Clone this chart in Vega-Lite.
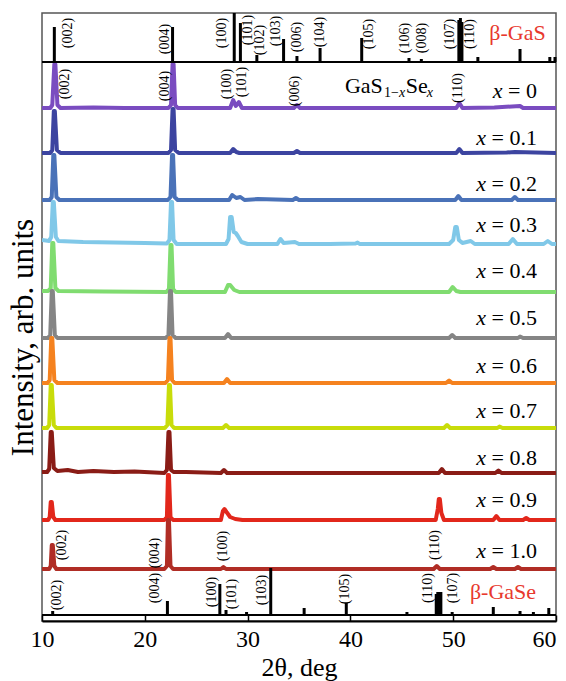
{
  "$schema": "https://vega.github.io/schema/vega-lite/v6.json",
  "width": 514,
  "height": 608,
  "autosize": {"type": "none"},
  "padding": {"left": 42, "top": 13, "right": 10, "bottom": 60},
  "background": "white",
  "config": {"view": {"stroke": "#555555", "strokeWidth": 1.5}, "font": "'Liberation Serif', 'Times New Roman', serif"},
  "datasets": {
    "traces": [
      {"s":"0","t":10,"v":513},{"s":"0","t":10.8,"v":513},{"s":"0","t":11.0,"v":516},{"s":"0","t":11.2,"v":557},{"s":"0","t":11.3,"v":557},{"s":"0","t":11.5,"v":516},{"s":"0","t":11.8,"v":513},{"s":"0","t":15,"v":513.5},{"s":"0","t":18,"v":513},{"s":"0","t":22.3,"v":513},{"s":"0","t":22.55,"v":516},{"s":"0","t":22.7,"v":557},{"s":"0","t":22.8,"v":557},{"s":"0","t":22.95,"v":516},{"s":"0","t":23.2,"v":513},{"s":"0","t":26,"v":513},{"s":"0","t":28.3,"v":513},{"s":"0","t":28.6,"v":521},{"s":"0","t":28.85,"v":515},{"s":"0","t":29.15,"v":519},{"s":"0","t":29.45,"v":513},{"s":"0","t":32,"v":513},{"s":"0","t":34.5,"v":513},{"s":"0","t":34.8,"v":516},{"s":"0","t":35.1,"v":513},{"s":"0","t":40,"v":513},{"s":"0","t":45,"v":513},{"s":"0","t":50.3,"v":513},{"s":"0","t":50.6,"v":518},{"s":"0","t":50.9,"v":513},{"s":"0","t":54,"v":513.5},{"s":"0","t":56.5,"v":515},{"s":"0","t":56.8,"v":513},{"s":"0","t":60,"v":513},
      {"s":"0.1","t":10,"v":468},{"s":"0.1","t":10.8,"v":468},{"s":"0.1","t":11.0,"v":471},{"s":"0.1","t":11.15,"v":510},{"s":"0.1","t":11.25,"v":510},{"s":"0.1","t":11.45,"v":471},{"s":"0.1","t":11.8,"v":468},{"s":"0.1","t":16,"v":468},{"s":"0.1","t":22.3,"v":468},{"s":"0.1","t":22.55,"v":471},{"s":"0.1","t":22.7,"v":512},{"s":"0.1","t":22.8,"v":512},{"s":"0.1","t":22.95,"v":471},{"s":"0.1","t":23.3,"v":468},{"s":"0.1","t":28.3,"v":468},{"s":"0.1","t":28.6,"v":472},{"s":"0.1","t":28.9,"v":469},{"s":"0.1","t":29.2,"v":468},{"s":"0.1","t":34.5,"v":468},{"s":"0.1","t":34.8,"v":470},{"s":"0.1","t":35.1,"v":468},{"s":"0.1","t":42,"v":468},{"s":"0.1","t":50.3,"v":468},{"s":"0.1","t":50.6,"v":472},{"s":"0.1","t":50.9,"v":468},{"s":"0.1","t":55.2,"v":468.5},{"s":"0.1","t":56,"v":469},{"s":"0.1","t":60,"v":468},
      {"s":"0.2","t":10,"v":421},{"s":"0.2","t":10.75,"v":421},{"s":"0.2","t":10.95,"v":424},{"s":"0.2","t":11.1,"v":466},{"s":"0.2","t":11.2,"v":466},{"s":"0.2","t":11.4,"v":424},{"s":"0.2","t":11.7,"v":421},{"s":"0.2","t":16,"v":421},{"s":"0.2","t":22.25,"v":421},{"s":"0.2","t":22.5,"v":424},{"s":"0.2","t":22.65,"v":466},{"s":"0.2","t":22.75,"v":466},{"s":"0.2","t":22.9,"v":424},{"s":"0.2","t":23.2,"v":421},{"s":"0.2","t":28.2,"v":421},{"s":"0.2","t":28.5,"v":426},{"s":"0.2","t":28.9,"v":423},{"s":"0.2","t":29.3,"v":424},{"s":"0.2","t":29.7,"v":421},{"s":"0.2","t":31,"v":422},{"s":"0.2","t":34.4,"v":421},{"s":"0.2","t":34.7,"v":423},{"s":"0.2","t":35,"v":421},{"s":"0.2","t":40,"v":421},{"s":"0.2","t":50.2,"v":421},{"s":"0.2","t":50.5,"v":425},{"s":"0.2","t":50.8,"v":421},{"s":"0.2","t":55.7,"v":421},{"s":"0.2","t":56,"v":424},{"s":"0.2","t":56.3,"v":421},{"s":"0.2","t":60,"v":421},
      {"s":"0.3","t":10,"v":381},{"s":"0.3","t":10.7,"v":380},{"s":"0.3","t":10.9,"v":384},{"s":"0.3","t":11.05,"v":419},{"s":"0.3","t":11.15,"v":419},{"s":"0.3","t":11.35,"v":384},{"s":"0.3","t":11.6,"v":380},{"s":"0.3","t":14,"v":379},{"s":"0.3","t":17,"v":378.5},{"s":"0.3","t":20,"v":378},{"s":"0.3","t":22.15,"v":377.5},{"s":"0.3","t":22.4,"v":381},{"s":"0.3","t":22.55,"v":419},{"s":"0.3","t":22.65,"v":419},{"s":"0.3","t":22.8,"v":381},{"s":"0.3","t":23.1,"v":377},{"s":"0.3","t":26,"v":377},{"s":"0.3","t":27.9,"v":377},{"s":"0.3","t":28.15,"v":382},{"s":"0.3","t":28.3,"v":404},{"s":"0.3","t":28.45,"v":404},{"s":"0.3","t":28.65,"v":389},{"s":"0.3","t":28.85,"v":388},{"s":"0.3","t":29.05,"v":385},{"s":"0.3","t":29.4,"v":379},{"s":"0.3","t":30,"v":377},{"s":"0.3","t":32.9,"v":377},{"s":"0.3","t":33.2,"v":382},{"s":"0.3","t":33.5,"v":378},{"s":"0.3","t":34.6,"v":379},{"s":"0.3","t":35,"v":377},{"s":"0.3","t":38,"v":377},{"s":"0.3","t":40.5,"v":377.5},{"s":"0.3","t":40.7,"v":378.5},{"s":"0.3","t":40.9,"v":377},{"s":"0.3","t":45,"v":377},{"s":"0.3","t":49.6,"v":377},{"s":"0.3","t":50.0,"v":381},{"s":"0.3","t":50.2,"v":394},{"s":"0.3","t":50.35,"v":394},{"s":"0.3","t":50.55,"v":381},{"s":"0.3","t":50.9,"v":378},{"s":"0.3","t":51.7,"v":380},{"s":"0.3","t":52.1,"v":377},{"s":"0.3","t":55.4,"v":377},{"s":"0.3","t":55.8,"v":382},{"s":"0.3","t":56.2,"v":377},{"s":"0.3","t":58.8,"v":377},{"s":"0.3","t":59.2,"v":380},{"s":"0.3","t":59.6,"v":377},{"s":"0.3","t":60,"v":377},
      {"s":"0.4","t":10,"v":330},{"s":"0.4","t":10.6,"v":330},{"s":"0.4","t":10.85,"v":333},{"s":"0.4","t":11.0,"v":378},{"s":"0.4","t":11.1,"v":378},{"s":"0.4","t":11.3,"v":333},{"s":"0.4","t":11.6,"v":330},{"s":"0.4","t":16,"v":329.5},{"s":"0.4","t":22.1,"v":329},{"s":"0.4","t":22.35,"v":332},{"s":"0.4","t":22.5,"v":376},{"s":"0.4","t":22.6,"v":376},{"s":"0.4","t":22.75,"v":332},{"s":"0.4","t":23.0,"v":329},{"s":"0.4","t":27.8,"v":329},{"s":"0.4","t":28.1,"v":336},{"s":"0.4","t":28.3,"v":336},{"s":"0.4","t":28.7,"v":331},{"s":"0.4","t":29.2,"v":329},{"s":"0.4","t":40,"v":329},{"s":"0.4","t":49.6,"v":329},{"s":"0.4","t":49.95,"v":334},{"s":"0.4","t":50.3,"v":330},{"s":"0.4","t":50.7,"v":329},{"s":"0.4","t":60,"v":329},
      {"s":"0.5","t":10,"v":283},{"s":"0.5","t":10.6,"v":283},{"s":"0.5","t":10.8,"v":286},{"s":"0.5","t":10.95,"v":330},{"s":"0.5","t":11.05,"v":330},{"s":"0.5","t":11.25,"v":286},{"s":"0.5","t":11.5,"v":283},{"s":"0.5","t":22.05,"v":283},{"s":"0.5","t":22.3,"v":286},{"s":"0.5","t":22.45,"v":330},{"s":"0.5","t":22.55,"v":330},{"s":"0.5","t":22.7,"v":286},{"s":"0.5","t":23.0,"v":283},{"s":"0.5","t":27.8,"v":283},{"s":"0.5","t":28.1,"v":287},{"s":"0.5","t":28.4,"v":283},{"s":"0.5","t":49.6,"v":283},{"s":"0.5","t":49.9,"v":286},{"s":"0.5","t":50.2,"v":283},{"s":"0.5","t":56.3,"v":283},{"s":"0.5","t":56.5,"v":284.5},{"s":"0.5","t":56.8,"v":283},{"s":"0.5","t":60,"v":283},
      {"s":"0.6","t":10,"v":238},{"s":"0.6","t":10.55,"v":238},{"s":"0.6","t":10.75,"v":241},{"s":"0.6","t":10.9,"v":283},{"s":"0.6","t":11.0,"v":283},{"s":"0.6","t":11.2,"v":241},{"s":"0.6","t":11.5,"v":238},{"s":"0.6","t":22.0,"v":238},{"s":"0.6","t":22.25,"v":241},{"s":"0.6","t":22.4,"v":283},{"s":"0.6","t":22.5,"v":283},{"s":"0.6","t":22.65,"v":241},{"s":"0.6","t":22.9,"v":238},{"s":"0.6","t":27.7,"v":238},{"s":"0.6","t":28.0,"v":242},{"s":"0.6","t":28.3,"v":238},{"s":"0.6","t":49.3,"v":238},{"s":"0.6","t":49.6,"v":240.5},{"s":"0.6","t":49.9,"v":238},{"s":"0.6","t":60,"v":238},
      {"s":"0.7","t":10,"v":193},{"s":"0.7","t":10.5,"v":193},{"s":"0.7","t":10.7,"v":196},{"s":"0.7","t":10.85,"v":236},{"s":"0.7","t":10.95,"v":236},{"s":"0.7","t":11.15,"v":196},{"s":"0.7","t":11.4,"v":193},{"s":"0.7","t":21.95,"v":193},{"s":"0.7","t":22.2,"v":196},{"s":"0.7","t":22.35,"v":236},{"s":"0.7","t":22.45,"v":236},{"s":"0.7","t":22.6,"v":196},{"s":"0.7","t":22.85,"v":193},{"s":"0.7","t":27.6,"v":193},{"s":"0.7","t":27.9,"v":196},{"s":"0.7","t":28.2,"v":193},{"s":"0.7","t":49.1,"v":193},{"s":"0.7","t":49.4,"v":196},{"s":"0.7","t":49.7,"v":193},{"s":"0.7","t":54.3,"v":193},{"s":"0.7","t":54.5,"v":194.5},{"s":"0.7","t":54.8,"v":193},{"s":"0.7","t":60,"v":193},
      {"s":"0.8","t":10,"v":149},{"s":"0.8","t":10.5,"v":149},{"s":"0.8","t":10.7,"v":152},{"s":"0.8","t":10.85,"v":189},{"s":"0.8","t":10.95,"v":189},{"s":"0.8","t":11.15,"v":153},{"s":"0.8","t":11.5,"v":150},{"s":"0.8","t":12.5,"v":151},{"s":"0.8","t":13.5,"v":149},{"s":"0.8","t":15,"v":150},{"s":"0.8","t":17,"v":149},{"s":"0.8","t":19,"v":149.5},{"s":"0.8","t":21.9,"v":148},{"s":"0.8","t":22.15,"v":151},{"s":"0.8","t":22.3,"v":189},{"s":"0.8","t":22.4,"v":189},{"s":"0.8","t":22.55,"v":151},{"s":"0.8","t":22.8,"v":149},{"s":"0.8","t":24,"v":149},{"s":"0.8","t":27.4,"v":148},{"s":"0.8","t":27.7,"v":151},{"s":"0.8","t":28.0,"v":148},{"s":"0.8","t":35,"v":148},{"s":"0.8","t":42,"v":148},{"s":"0.8","t":48.6,"v":148},{"s":"0.8","t":48.9,"v":152},{"s":"0.8","t":49.2,"v":148},{"s":"0.8","t":54.1,"v":148},{"s":"0.8","t":54.4,"v":150.5},{"s":"0.8","t":54.7,"v":148},{"s":"0.8","t":60,"v":148},
      {"s":"0.9","t":10,"v":101},{"s":"0.9","t":10.6,"v":101},{"s":"0.9","t":10.75,"v":104},{"s":"0.9","t":10.85,"v":119},{"s":"0.9","t":10.95,"v":119},{"s":"0.9","t":11.1,"v":104},{"s":"0.9","t":11.3,"v":101},{"s":"0.9","t":21.9,"v":101},{"s":"0.9","t":22.15,"v":104},{"s":"0.9","t":22.25,"v":146},{"s":"0.9","t":22.35,"v":146},{"s":"0.9","t":22.5,"v":104},{"s":"0.9","t":22.75,"v":101},{"s":"0.9","t":27.4,"v":101},{"s":"0.9","t":27.6,"v":110},{"s":"0.9","t":27.75,"v":112},{"s":"0.9","t":27.95,"v":109},{"s":"0.9","t":28.3,"v":104},{"s":"0.9","t":28.8,"v":102},{"s":"0.9","t":29.5,"v":101},{"s":"0.9","t":48.3,"v":101},{"s":"0.9","t":48.5,"v":112},{"s":"0.9","t":48.6,"v":122},{"s":"0.9","t":48.7,"v":122},{"s":"0.9","t":48.85,"v":108},{"s":"0.9","t":49.1,"v":101},{"s":"0.9","t":53.9,"v":101},{"s":"0.9","t":54.2,"v":105},{"s":"0.9","t":54.5,"v":101},{"s":"0.9","t":56.8,"v":101},{"s":"0.9","t":57.1,"v":103},{"s":"0.9","t":57.4,"v":101},{"s":"0.9","t":60,"v":101},
      {"s":"1.0","t":10,"v":52},{"s":"1.0","t":10.7,"v":52},{"s":"1.0","t":10.85,"v":55},{"s":"1.0","t":10.95,"v":76},{"s":"1.0","t":11.05,"v":76},{"s":"1.0","t":11.2,"v":55},{"s":"1.0","t":11.4,"v":52},{"s":"1.0","t":21.9,"v":52},{"s":"1.0","t":22.15,"v":55},{"s":"1.0","t":22.25,"v":101},{"s":"1.0","t":22.35,"v":101},{"s":"1.0","t":22.5,"v":55},{"s":"1.0","t":22.75,"v":52},{"s":"1.0","t":27.4,"v":52},{"s":"1.0","t":27.65,"v":54},{"s":"1.0","t":27.9,"v":52},{"s":"1.0","t":48.1,"v":52},{"s":"1.0","t":48.4,"v":55},{"s":"1.0","t":48.7,"v":52},{"s":"1.0","t":53.6,"v":52},{"s":"1.0","t":53.9,"v":54},{"s":"1.0","t":54.2,"v":52},{"s":"1.0","t":56.0,"v":52},{"s":"1.0","t":56.3,"v":54},{"s":"1.0","t":56.6,"v":52},{"s":"1.0","t":60,"v":52}
    ],
    "gas": [
      {"t":11.2,"v":594},{"t":22.7,"v":594},{"t":28.7,"v":608},{"t":29.3,"v":598},{"t":30.9,"v":566},{"t":33.5,"v":582},{"t":34.8,"v":565},{"t":37.05,"v":573},{"t":41.1,"v":583},{"t":45.7,"v":563},{"t":46.9,"v":562},{"t":50.55,"v":601},{"t":50.7,"v":603},{"t":50.85,"v":599},{"t":52.4,"v":564},{"t":54.2,"v":560},{"t":55.9,"v":560},{"t":56.5,"v":572},{"t":59.4,"v":564},{"t":59.9,"v":564}
    ],
    "gase": [
      {"t":11.04,"v":10},{"t":22.2,"v":20},{"t":27.3,"v":37},{"t":27.9,"v":11},{"t":29.9,"v":9},{"t":32.25,"v":53},{"t":35.5,"v":13},{"t":39.6,"v":18},{"t":45.5,"v":9},{"t":48.35,"v":27},{"t":48.5,"v":29},{"t":48.65,"v":29},{"t":48.8,"v":29},{"t":49.9,"v":9},{"t":53.9,"v":14},{"t":56.5,"v":10},{"t":57.8,"v":9},{"t":59.3,"v":13}
    ],
    "hkl": [
      {"lab":"(002)","t":12.5,"v":588},{"lab":"(004)","t":21.96,"v":582},{"lab":"(100)","t":27.48,"v":588},{"lab":"(101)","t":30.07,"v":591},{"lab":"(102)","t":31.2,"v":581},{"lab":"(103)","t":32.76,"v":590},{"lab":"(006)","t":34.78,"v":584},{"lab":"(104)","t":37.04,"v":589},{"lab":"(105)","t":41.84,"v":587},{"lab":"(106)","t":45.31,"v":583},{"lab":"(008)","t":46.93,"v":583},{"lab":"(107)","t":49.69,"v":587},{"lab":"(110)","t":51.63,"v":587},
      {"lab":"(002)","t":12.24,"v":537},{"lab":"(004)","t":21.96,"v":535},{"lab":"(100)","t":27.97,"v":537},{"lab":"(101)","t":29.43,"v":539},{"lab":"(006)","t":34.61,"v":530},{"lab":"(110)","t":50.47,"v":533},
      {"lab":"(002)","t":11.92,"v":76},{"lab":"(004)","t":20.99,"v":68},{"lab":"(100)","t":27.6,"v":75},{"lab":"(110)","t":48.23,"v":76},
      {"lab":"(002)","t":11.43,"v":26},{"lab":"(004)","t":20.99,"v":33},{"lab":"(100)","t":26.5,"v":29},{"lab":"(101)","t":28.45,"v":27},{"lab":"(103)","t":31.37,"v":31},{"lab":"(105)","t":39.47,"v":32},{"lab":"(110)","t":47.55,"v":33},{"lab":"(107)","t":49.98,"v":33}
    ],
    "phase": [
      {"lab":"β-GaS","t":56.26,"v":588},{"lab":"β-GaSe","t":54.84,"v":29}
    ],
    "xlab": [
      {"n":"= 0","t":58.15,"v":523,"xt":54.8},
      {"n":"= 0.1","t":58.15,"v":476,"xt":53.2},
      {"n":"= 0.2","t":58.15,"v":430,"xt":53.2},
      {"n":"= 0.3","t":58.15,"v":389,"xt":53.2},
      {"n":"= 0.4","t":58.15,"v":343,"xt":53.2},
      {"n":"= 0.5","t":58.15,"v":296,"xt":53.2},
      {"n":"= 0.6","t":58.15,"v":248,"xt":53.2},
      {"n":"= 0.7","t":58.15,"v":203,"xt":53.2},
      {"n":"= 0.8","t":58.15,"v":156,"xt":53.2},
      {"n":"= 0.9","t":58.15,"v":114,"xt":53.2},
      {"n":"= 1.0","t":58.15,"v":63,"xt":53.2}
    ],
    "formMain": [{"lab":"GaS","t":39.47,"v":528},{"lab":"Se","t":45.38,"v":528}],
    "formSub": [{"lab":"1−","t":43.27,"v":524}],
    "formSubIt": [{"lab":"x","t":44.72,"v":524},{"lab":"x","t":47.42,"v":524}],
    "hlines": [{"v":559},{"v":6}]
  },
  "layer": [
    {
      "data": {"name": "traces"},
      "mark": {"type": "line", "clip": true, "strokeJoin": "round"},
      "encoding": {
        "x": {"field": "t", "type": "quantitative", "scale": {"domain": [10, 60], "nice": false, "zero": false},
          "axis": {"title": "2θ, deg", "values": [10, 20, 30, 40, 50, 60], "grid": false, "domainColor": "#000000", "domainWidth": 2, "tickColor": "#000000", "tickWidth": 1.5, "tickSize": -6, "labelFont": "'Liberation Serif', 'Times New Roman', serif", "labelFontSize": 24, "labelColor": "#000000", "labelPadding": 12, "labelFlush": false, "labelAlign": {"condition": {"test": "datum.value >= 60", "value": "right"}, "value": "center"}, "titleFont": "'Liberation Serif', 'Times New Roman', serif", "titleFontSize": 26, "titleFontWeight": "normal", "titleColor": "#000000", "titlePadding": 3}},
        "y": {"field": "v", "type": "quantitative", "scale": {"domain": [0, 608], "nice": false, "zero": false},
          "axis": {"title": "Intensity, arb. units", "grid": false, "domain": false, "ticks": false, "labels": false, "titleFont": "'Liberation Serif', 'Times New Roman', serif", "titleFontSize": 31, "titleFontWeight": "normal", "titleColor": "#000000", "titlePadding": 3, "titleY": 324}},
        "detail": {"field": "s"},
        "color": {"field": "s", "type": "nominal", "legend": null, "scale": {"domain": ["0","0.1","0.2","0.3","0.4","0.5","0.6","0.7","0.8","0.9","1.0"], "range": ["#7a4cc0","#3c44a0","#4a72b8","#80c8e8","#80dc70","#858585","#f5821f","#c8dc0a","#8a1c16","#e2271b","#b02d25"]}},
        "strokeWidth": {"field": "s", "type": "nominal", "legend": null, "scale": {"domain": ["0","0.1","0.2","0.3","0.4","0.5","0.6","0.7","0.8","0.9","1.0"], "range": [4,4,4,4,4,4,4,4,6,4,4]}},
        "order": {"field": "t", "type": "quantitative"}
      }
    },
    {
      "data": {"name": "hlines"},
      "mark": {"type": "rule", "color": "#000000", "strokeWidth": 2},
      "encoding": {"y": {"field": "v", "type": "quantitative"}}
    },
    {
      "data": {"name": "gas"},
      "mark": {"type": "rule", "color": "#000000", "strokeWidth": 3},
      "encoding": {
        "x": {"field": "t", "type": "quantitative"},
        "y": {"field": "v", "type": "quantitative"},
        "y2": {"datum": 559}
      }
    },
    {
      "data": {"name": "gase"},
      "mark": {"type": "rule", "color": "#000000", "strokeWidth": 3},
      "encoding": {
        "x": {"field": "t", "type": "quantitative"},
        "y": {"field": "v", "type": "quantitative"},
        "y2": {"datum": 6}
      }
    },
    {
      "data": {"name": "hkl"},
      "mark": {"type": "text", "angle": 270, "align": "center", "baseline": "middle", "font": "'Liberation Serif', 'Times New Roman', serif", "fontSize": 14, "color": "#000000"},
      "encoding": {
        "x": {"field": "t", "type": "quantitative"},
        "y": {"field": "v", "type": "quantitative"},
        "text": {"field": "lab"}
      }
    },
    {
      "data": {"name": "phase"},
      "mark": {"type": "text", "align": "center", "baseline": "middle", "font": "'Liberation Serif', 'Times New Roman', serif", "fontSize": 22, "color": "#e8392e"},
      "encoding": {
        "x": {"field": "t", "type": "quantitative"},
        "y": {"field": "v", "type": "quantitative"},
        "text": {"field": "lab"}
      }
    },
    {
      "data": {"name": "xlab"},
      "mark": {"type": "text", "align": "right", "baseline": "alphabetic", "font": "'Liberation Serif', 'Times New Roman', serif", "fontSize": 22, "color": "#000000"},
      "encoding": {
        "x": {"field": "t", "type": "quantitative"},
        "y": {"field": "v", "type": "quantitative"},
        "text": {"field": "n"}
      }
    },
    {
      "data": {"name": "xlab"},
      "mark": {"type": "text", "align": "right", "baseline": "alphabetic", "font": "'Liberation Serif', 'Times New Roman', serif", "fontSize": 22, "fontStyle": "italic", "color": "#000000", "text": "x"},
      "encoding": {
        "x": {"field": "xt", "type": "quantitative"},
        "y": {"field": "v", "type": "quantitative"}
      }
    },
    {
      "data": {"name": "formMain"},
      "mark": {"type": "text", "align": "left", "baseline": "alphabetic", "font": "'Liberation Serif', 'Times New Roman', serif", "fontSize": 22, "color": "#000000"},
      "encoding": {
        "x": {"field": "t", "type": "quantitative"},
        "y": {"field": "v", "type": "quantitative"},
        "text": {"field": "lab"}
      }
    },
    {
      "data": {"name": "formSub"},
      "mark": {"type": "text", "align": "left", "baseline": "alphabetic", "font": "'Liberation Serif', 'Times New Roman', serif", "fontSize": 14, "color": "#000000"},
      "encoding": {
        "x": {"field": "t", "type": "quantitative"},
        "y": {"field": "v", "type": "quantitative"},
        "text": {"field": "lab"}
      }
    },
    {
      "data": {"name": "formSubIt"},
      "mark": {"type": "text", "align": "left", "baseline": "alphabetic", "font": "'Liberation Serif', 'Times New Roman', serif", "fontSize": 14, "fontStyle": "italic", "color": "#000000"},
      "encoding": {
        "x": {"field": "t", "type": "quantitative"},
        "y": {"field": "v", "type": "quantitative"},
        "text": {"field": "lab"}
      }
    }
  ]
}
